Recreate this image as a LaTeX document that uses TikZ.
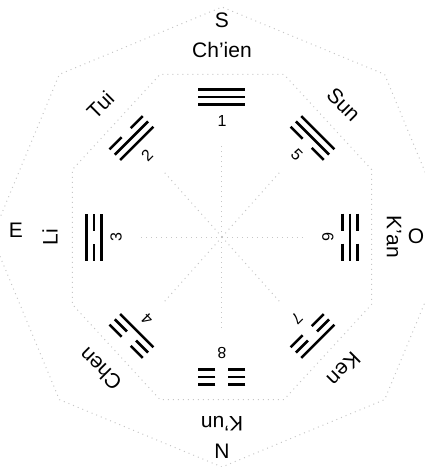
\documentclass[tikz,border=0pt]{standalone}
\usepackage{fontspec}
\setmainfont{Liberation Sans}
\usetikzlibrary{positioning}
\tikzstyle{yao} = [line width=1.3pt]
\tikzstyle{guide} = [gray!45, dotted, line width=0.5pt]
\tikzstyle{trilabel} = [font=\fontsize{10.5}{12}\selectfont, inner sep=1pt]
\tikzstyle{trinum} = [font=\fontsize{8}{9}\selectfont, inner sep=1pt]
% one line of a trigram: #1 offset, #2 = 1 solid, 0 broken
\newcommand{\yaoline}[2]{%
  \ifnum#2=1 \draw[yao] (-23.5,#1) -- (23.5,#1);
  \else \draw[yao] (-23.5,#1) -- (-6.5,#1); \draw[yao] (6.5,#1) -- (23.5,#1); \fi}

\begin{document}
\begin{tikzpicture}[x=0.5pt, y=0.5pt]
\useasboundingbox (-222,-230) rectangle (203,237);

% Guide lines
\begin{scope}
\clip (-222,-230) rectangle (203,237);
\draw[guide] (0:230) -- (45:230) -- (90:230) -- (135:230) -- (180:230) -- (225:230) -- (270:230) -- (315:230) -- cycle;
\draw[guide] (22.5:162 and 176) -- (67.5:162 and 176) -- (112.5:162 and 176) -- (157.5:162 and 176) -- (202.5:162 and 176) -- (247.5:162 and 176) -- (292.5:162 and 176) -- (337.5:162 and 176) -- cycle;
\coordinate (centre) at (0,0);
\foreach \a in {0,45,...,315}
  \draw[guide] (centre) -- (\a:82 and 92);
\end{scope}

% Trigrams (lines listed inner to outer)
\foreach \ang/\gua/\nr/\ya/\yb/\yc [evaluate=\ang as \rot using \ang-90] in
  {90/Ch'ien/1/1/1/1, 135/Tui/2/1/1/0, 180/Li/3/1/0/1, 225/Chen/4/1/0/0,
   270/K'un/8/0/0/0, 315/Ken/7/0/0/1, 0/K'an/6/0/1/0, 45/Sun/5/0/1/1}{
  \coordinate (tri\nr) at (\ang:128 and 140);
  \begin{scope}[shift={(tri\nr)}, rotate=\rot]
    \yaoline{-7.5}{\ya}
    \yaoline{0}{\yb}
    \yaoline{7.5}{\yc}
  \end{scope}
  \node[trilabel, rotate=\rot] (lbl\nr) at (\ang:172 and 187) {\gua};
  \node[trinum, rotate=\rot] (num\nr) at (\ang:106 and 116) {\nr};
}

% Compass points
\node[trilabel] (south) at (0,217) {S};
\node[trilabel] (north) at (0,-214) {N};
\node[trilabel] (east) at (-206,7) {E};
\node[trilabel] (west) at (194,1) {O};

\end{tikzpicture}
\end{document}
